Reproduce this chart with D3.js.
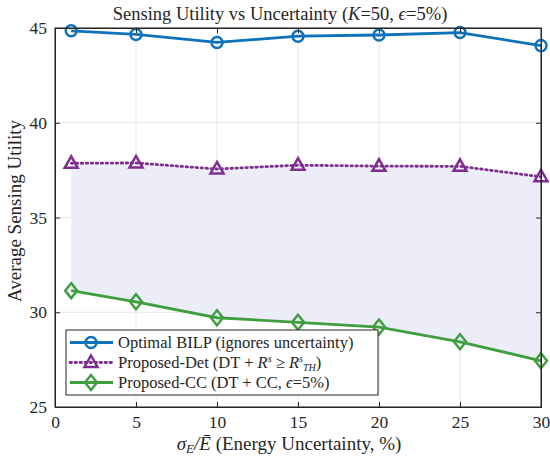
<!DOCTYPE html>
<html>
<head>
<meta charset="utf-8">
<script src="https://cdn.jsdelivr.net/npm/d3@7"></script>
<style>
  body { margin: 0; background: #fff; }
  text { font-family: "Liberation Serif", "DejaVu Serif", serif; fill: #262626; }
</style>
</head>
<body>
<svg id="chart" width="550" height="462"></svg>
<script>
// data
const uncertainty = [1, 5, 10, 15, 20, 25, 30];
const optimalBILP = [44.85, 44.66, 44.24, 44.57, 44.63, 44.76, 44.07];
const proposedDet = [37.86, 37.88, 37.56, 37.76, 37.71, 37.70, 37.15];
const proposedCC = [31.14, 30.55, 29.71, 29.47, 29.22, 28.44, 27.44];
const xTicks = [0, 5, 10, 15, 20, 25, 30];
const yTicks = [25, 30, 35, 40, 45];

const margin = {top: 28, right: 9, bottom: 55, left: 55};
const width = 550 - margin.left - margin.right;
const height = 462 - margin.top - margin.bottom;

const svg = d3.select("#chart");
const g = svg.append("g")
    .attr("transform", "translate(" + margin.left + "," + margin.top + ")");

let x = d3.scaleLinear().domain([0, 30]).range([0, width]);
let y = d3.scaleLinear().domain([25, 45]).range([height, 0]);

//grid
g.append("g").selectAll("line").data(xTicks).join("line")
    .attr("x1", d => x(d)).attr("x2", d => x(d))
    .attr("y1", 0).attr("y2", height)
    .attr("stroke", "#dfdfdf").attr("stroke-width", 0.8);
g.append("g").selectAll("line").data(yTicks).join("line")
    .attr("x1", 0).attr("x2", width)
    .attr("y1", d => y(d)).attr("y2", d => y(d))
    .attr("stroke", "#dfdfdf").attr("stroke-width", 0.8);

//shaded gap between det and cc
let area = d3.area()
    .x((d, i) => x(uncertainty[i]))
    .y0((d, i) => y(proposedCC[i]))
    .y1(d => y(d));
g.append("path")
    .datum(proposedDet)
    .attr("d", area)
    .attr("fill", "#ededfa");

let line = d3.line()
    .x((d, i) => x(uncertainty[i]))
    .y(d => y(d));

const series = [
    {values: optimalBILP, color: "#0e72bb", dash: null, marker: "circle",
        label: "Optimal BILP (ignores uncertainty)"},
    {values: proposedDet, color: "#7e2f8e", dash: "1.5,3.5", marker: "triangle",
        label: "Proposed-Det"},
    {values: proposedCC, color: "#3f9f3f", dash: null, marker: "diamond",
        label: "Proposed-CC"}
];

function drawMarker(sel, type, color) {
    if (type === "circle") {
        sel.append("circle").attr("r", 5.5);
    } else if (type === "triangle") {
        sel.append("path").attr("d", "M0,-7 L6.5,4.5 L-6.5,4.5 Z");
    } else {
        sel.append("path").attr("d", "M0,-7.5 L6,0 L0,7.5 L-6,0 Z");
    }
    sel.selectAll("*")
        .attr("fill", "none")
        .attr("stroke", color)
        .attr("stroke-width", 2.5);
}

series.forEach(s => {
    g.append("path")
        .datum(s.values)
        .attr("d", line)
        .attr("fill", "none")
        .attr("stroke", s.color)
        .attr("stroke-width", 2.8)
        .attr("stroke-dasharray", s.dash)
        .attr("stroke-linecap", s.dash ? "round" : "butt");
    s.values.forEach((v, i) => {
        let m = g.append("g")
            .attr("transform", "translate(" + x(uncertainty[i]) + "," + y(v) + ")");
        drawMarker(m, s.marker, s.color);
    });
});

//axes
let xAxis = d3.axisBottom(x).tickValues(xTicks).tickSize(-5).tickPadding(9);
let yAxis = d3.axisLeft(y).tickValues(yTicks).tickSize(-5).tickPadding(8);
let gx = g.append("g").attr("transform", "translate(0," + height + ")").call(xAxis);
let gy = g.append("g").call(yAxis);
g.append("g").attr("transform", "translate(" + width + ",0)")
    .call(d3.axisRight(y).tickValues(yTicks).tickSize(-5).tickFormat(""));
g.append("g")
    .call(d3.axisTop(x).tickValues(xTicks).tickSize(-5).tickFormat(""));
g.selectAll(".domain").attr("stroke", "#262626");
g.selectAll(".tick line").attr("stroke", "#262626");
gx.selectAll("text").attr("font-size", 17.5).attr("fill", "#262626")
    .attr("font-family", "Liberation Serif, serif");
gy.selectAll("text").attr("font-size", 17.5).attr("fill", "#262626")
    .attr("font-family", "Liberation Serif, serif");
g.append("rect").attr("width", width).attr("height", height)
    .attr("fill", "none").attr("stroke", "#262626").attr("stroke-width", 1);

//title
let title = svg.append("text")
    .attr("x", 280).attr("y", 20)
    .attr("text-anchor", "middle").attr("font-size", 18.5);
title.append("tspan").text("Sensing Utility vs Uncertainty (");
title.append("tspan").attr("font-style", "italic").text("K");
title.append("tspan").text("=50, ");
title.append("tspan").attr("font-style", "italic").text("\u03f5");
title.append("tspan").text("=5%)");

//axis labels
let xl = svg.append("text")
    .attr("x", 289).attr("y", 450)
    .attr("text-anchor", "middle").attr("font-size", 19);
xl.append("tspan").attr("font-style", "italic").text("\u03c3");
xl.append("tspan").attr("font-style", "italic").attr("font-size", 13).attr("dy", 3).text("E");
xl.append("tspan").attr("dy", -3).attr("font-style", "italic").text("/E\u0304");
xl.append("tspan").text(" (Energy Uncertainty, %)");

svg.append("text")
    .attr("transform", "translate(21,211) rotate(-90)")
    .attr("text-anchor", "middle").attr("font-size", 19)
    .text("Average Sensing Utility");

//legend
let lg = g.append("g").attr("transform", "translate(" + (66 - margin.left) + "," + (330 - margin.top) + ")");
lg.append("rect").attr("width", 312).attr("height", 65)
    .attr("fill", "#fff").attr("stroke", "#262626").attr("stroke-width", 1);
const legendY = [12.5, 32.5, 52.5];
series.forEach((s, i) => {
    lg.append("line")
        .attr("x1", 4).attr("x2", 47)
        .attr("y1", legendY[i]).attr("y2", legendY[i])
        .attr("stroke", s.color).attr("stroke-width", 2.8)
        .attr("stroke-dasharray", s.dash)
        .attr("stroke-linecap", s.dash ? "round" : "butt");
    let m = lg.append("g").attr("transform", "translate(25," + legendY[i] + ")");
    drawMarker(m, s.marker, s.color);
    let t = lg.append("text").attr("x", 52).attr("y", legendY[i] + 5.5).attr("font-size", 16.5);
    if (i === 0) {
        t.text(s.label);
    } else if (i === 1) {
        t.append("tspan").text("Proposed-Det (DT + ");
        t.append("tspan").attr("font-style", "italic").text("R");
        t.append("tspan").attr("font-style", "italic").attr("font-size", 10).attr("dy", -6).text("s");
        t.append("tspan").attr("dy", 6).text(" \u2265 ");
        t.append("tspan").attr("font-style", "italic").text("R");
        t.append("tspan").attr("font-style", "italic").attr("font-size", 10).attr("dy", -6).text("s");
        t.append("tspan").attr("font-style", "italic").attr("font-size", 10).attr("dy", 9).text("TH");
        t.append("tspan").attr("dy", -3).text(")");
    } else {
        t.append("tspan").text("Proposed-CC (DT + CC, ");
        t.append("tspan").attr("font-style", "italic").text("\u03f5");
        t.append("tspan").text("=5%)");
    }
});
</script>
</body>
</html>
